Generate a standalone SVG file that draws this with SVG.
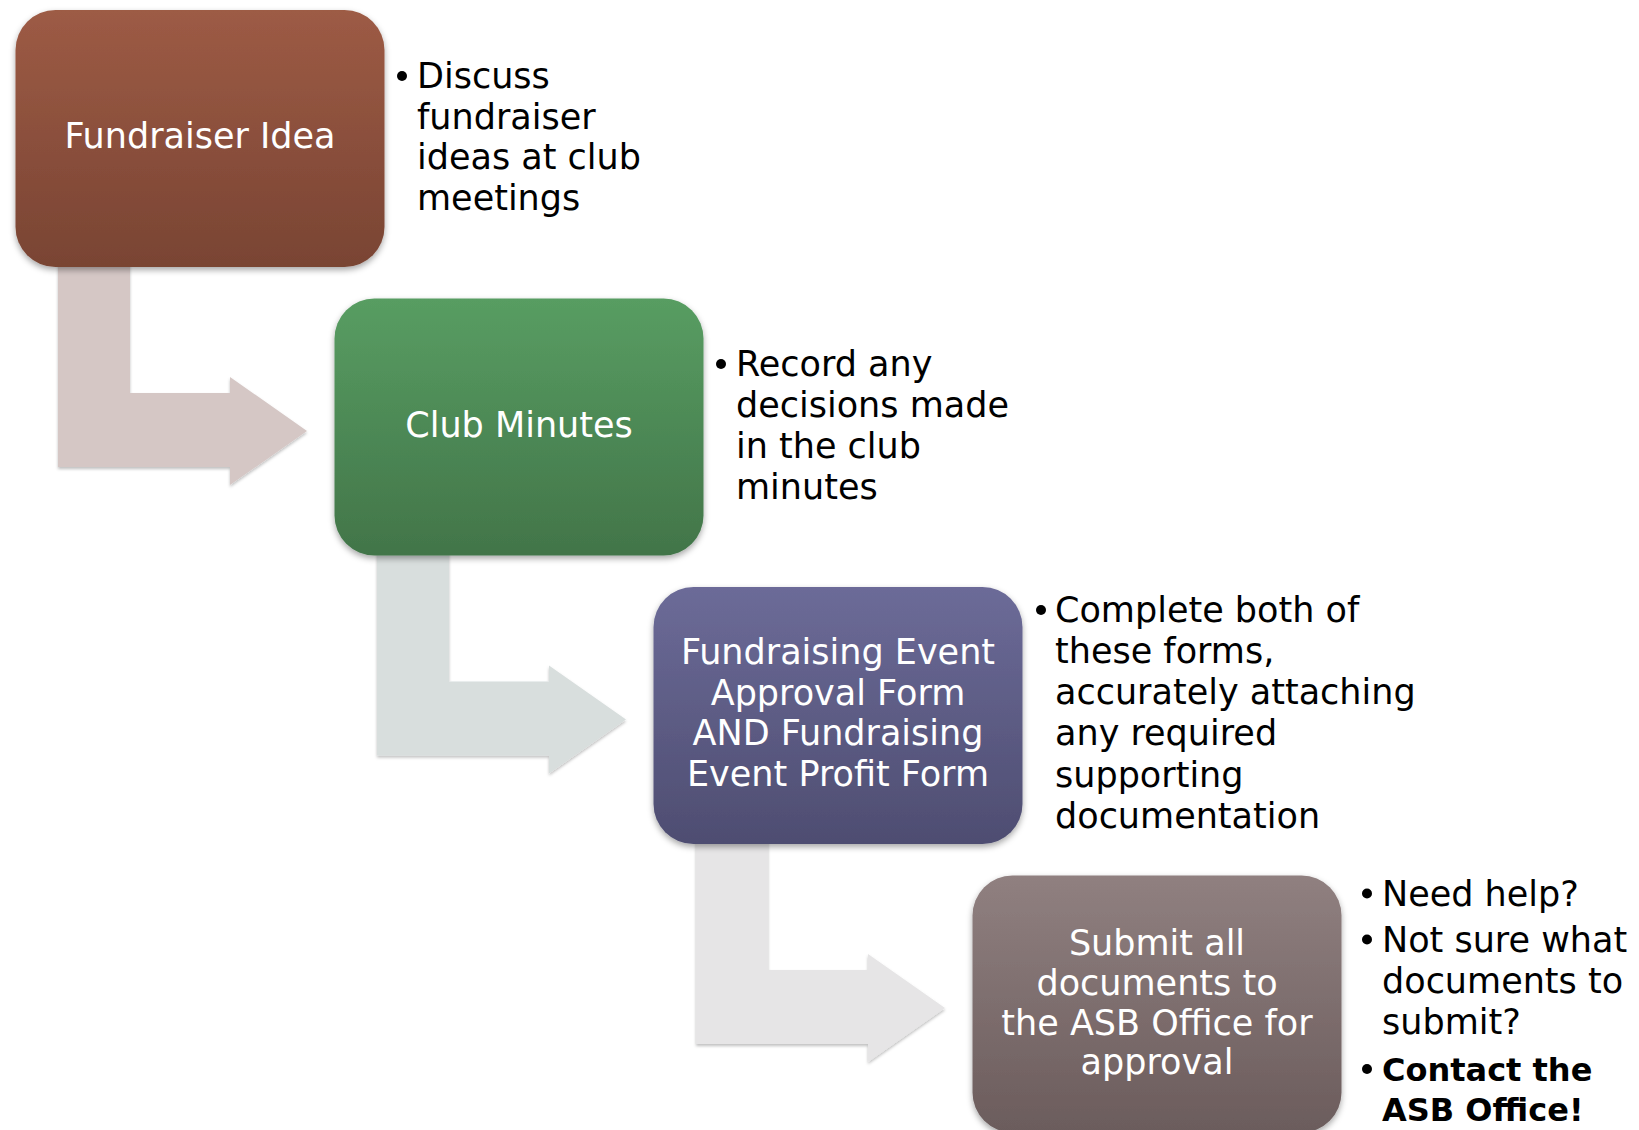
<svg xmlns="http://www.w3.org/2000/svg" width="1639" height="1130" viewBox="0 0 1639 1130">
  <defs>
    <linearGradient id="g1" x1="0" y1="0" x2="0" y2="1">
      <stop offset="0" stop-color="#9d5b45"/>
      <stop offset="1" stop-color="#794433"/>
    </linearGradient>
    <linearGradient id="g2" x1="0" y1="0" x2="0" y2="1">
      <stop offset="0" stop-color="#589d62"/>
      <stop offset="1" stop-color="#427549"/>
    </linearGradient>
    <linearGradient id="g3" x1="0" y1="0" x2="0" y2="1">
      <stop offset="0" stop-color="#6c6b98"/>
      <stop offset="1" stop-color="#4e4d71"/>
    </linearGradient>
    <linearGradient id="g4" x1="0" y1="0" x2="0" y2="1">
      <stop offset="0" stop-color="#908080"/>
      <stop offset="1" stop-color="#6b5c5c"/>
    </linearGradient>
    <filter id="sh" x="-10%" y="-10%" width="120%" height="125%">
      <feDropShadow dx="0" dy="3" stdDeviation="3" flood-color="#000" flood-opacity="0.35"/>
    </filter>
    <filter id="ash" x="-10%" y="-10%" width="120%" height="125%">
      <feDropShadow dx="0" dy="2" stdDeviation="1.5" flood-color="#000" flood-opacity="0.25"/>
    </filter>
    <path id="arrow" d="M58,250 H130 V393 H230 V377 L307,431 L230,485 V467 H58 Z"/>
  </defs>
  <style>
    .box { filter: url(#sh); }
    .lbl { font-family: "DejaVu Sans", "Liberation Sans", sans-serif; font-size: 35px; fill: #ffffff; text-anchor: middle; }
    .txt { font-family: "DejaVu Sans", "Liberation Sans", sans-serif; font-size: 35px; fill: #000000; }
    .bold { font-family: "DejaVu Sans", "Liberation Sans", sans-serif; font-size: 32px; font-weight: bold; fill: #000000; }
    .dot { fill: #000000; }
  </style>

  <g id="connectors">
    <use href="#arrow" fill="#d5c7c5" filter="url(#ash)"/>
    <use href="#arrow" fill="#d8dedd" filter="url(#ash)" transform="translate(319,288.5)"/>
    <use href="#arrow" fill="#e6e5e6" filter="url(#ash)" transform="translate(638,577)"/>
  </g>

  <g id="node-fundraiser-idea">
    <rect class="box" x="15.5" y="10" width="369" height="257" rx="40" fill="url(#g1)"/>
    <text class="lbl" x="200" y="148">Fundraiser Idea</text>
  </g>
  <g id="note-fundraiser-idea">
    <circle class="dot" cx="402" cy="76" r="5"/>
    <text class="txt" x="417" y="88">Discuss</text>
    <text class="txt" x="417" y="128.5">fundraiser</text>
    <text class="txt" x="417" y="169">ideas at club</text>
    <text class="txt" x="417" y="210">meetings</text>
  </g>

  <g id="node-club-minutes">
    <rect class="box" x="334.5" y="298.5" width="369" height="257" rx="40" fill="url(#g2)"/>
    <text class="lbl" x="519" y="437">Club Minutes</text>
  </g>
  <g id="note-club-minutes">
    <circle class="dot" cx="721" cy="364" r="5"/>
    <text class="txt" x="736" y="376">Record any</text>
    <text class="txt" x="736" y="417">decisions made</text>
    <text class="txt" x="736" y="458">in the club</text>
    <text class="txt" x="736" y="499">minutes</text>
  </g>

  <g id="node-forms">
    <rect class="box" x="653.5" y="587" width="369" height="257" rx="40" fill="url(#g3)"/>
    <text class="lbl" x="838" y="664">Fundraising Event</text>
    <text class="lbl" x="838" y="704.5">Approval Form</text>
    <text class="lbl" x="838" y="745">AND Fundraising</text>
    <text class="lbl" x="838" y="786">Event Profit Form</text>
  </g>
  <g id="note-forms">
    <circle class="dot" cx="1041" cy="610" r="5"/>
    <text class="txt" x="1055" y="622">Complete both of</text>
    <text class="txt" x="1055" y="663">these forms,</text>
    <text class="txt" x="1055" y="704">accurately attaching</text>
    <text class="txt" x="1055" y="745">any required</text>
    <text class="txt" x="1055" y="786.5">supporting</text>
    <text class="txt" x="1055" y="827.5">documentation</text>
  </g>

  <g id="node-submit">
    <rect class="box" x="972.5" y="875.5" width="369" height="257" rx="40" fill="url(#g4)"/>
    <text class="lbl" x="1157" y="955">Submit all</text>
    <text class="lbl" x="1157" y="995">documents to</text>
    <text class="lbl" x="1157" y="1035">the ASB Office for</text>
    <text class="lbl" x="1157" y="1074">approval</text>
  </g>
  <g id="note-submit">
    <circle class="dot" cx="1367" cy="893.5" r="5"/>
    <text class="txt" x="1382" y="905.5">Need help?</text>
    <circle class="dot" cx="1367" cy="939.5" r="5"/>
    <text class="txt" x="1382" y="951.5">Not sure what</text>
    <text class="txt" x="1382" y="992.5">documents to</text>
    <text class="txt" x="1382" y="1033.5">submit?</text>
    <circle class="dot" cx="1367" cy="1069" r="5"/>
    <text class="bold" x="1382" y="1081">Contact the</text>
    <text class="bold" x="1382" y="1121">ASB Office!</text>
  </g>
</svg>
